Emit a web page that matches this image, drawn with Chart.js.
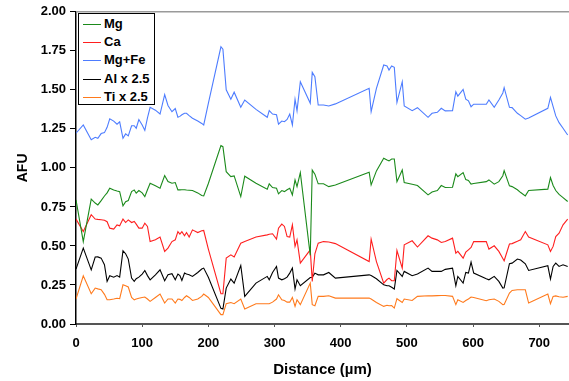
<!DOCTYPE html>
<html>
<head>
<meta charset="utf-8">
<script src="https://cdn.jsdelivr.net/npm/chart.js@4.4.0/dist/chart.umd.min.js"></script>
<style>
  body { margin: 0; background: #fff; }
  #wrap { position: relative; width: 569px; height: 381px; }
  #canvas { position: absolute; left: 0; top: 0; }
  #legend { position: absolute; left: 78px; top: 13px; width: 75px; height: 90px; border: 1px solid #000; background: #fff;
            font: bold 13px "Liberation Sans", Arial, sans-serif; color: #000; }
  .item { position: absolute; left: 0; width: 75px; height: 18px; }
  .item .sw { position: absolute; left: 4px; top: 9px; width: 18px; height: 0; border-top: 1.5px solid; }
  .item .lb { position: absolute; left: 25px; top: 1px; line-height: 16px; white-space: nowrap; }
</style>
</head>
<body>
<div id="wrap">
  <canvas id="canvas" width="569" height="381"></canvas>
  <div id="legend"></div>
</div>
<script>
// distance along the traverse (µm)
var distance = [0, 11, 23, 29, 33, 38, 43, 47, 51, 57, 62, 66, 71, 75, 79, 84, 88, 91, 95, 100,
  104, 108, 112, 120, 127, 134, 139, 145, 150, 154, 157, 160, 164, 167, 171, 176, 184, 190, 193, 200,
  219, 222, 227, 234, 239, 249, 255, 272, 289, 292, 297, 303, 306, 311, 315, 319, 323, 327, 331, 334,
  339, 354, 357, 361, 366, 374, 382, 392, 443, 446, 454, 465, 470, 473, 477, 481, 485, 493, 496, 508,
  516, 532, 538, 546, 552, 558, 569, 574, 577, 585, 589, 593, 597, 601, 620, 624, 632, 639, 645, 647,
  655, 659, 667, 672, 679, 684, 713, 717, 721, 725, 730, 736, 743];

var mg = [0.795, 0.528, 0.80, 0.775, 0.763, 0.79, 0.82, 0.84, 0.87, 0.858, 0.852, 0.848, 0.757, 0.784, 0.791, 0.848, 0.859, 0.838, 0.855, 0.84,
  0.816, 0.86, 0.902, 0.885, 0.87, 0.951, 0.912, 0.902, 0.906, 0.859, 0.859, 0.86, 0.86, 0.858, 0.857, 0.855, 0.84, 0.823, 0.821, 0.90,
  1.143, 1.136, 0.976, 0.944, 0.949, 0.816, 0.947, 0.902, 0.864, 0.898, 0.874, 0.87, 0.834, 0.855, 0.848, 0.86, 0.87, 0.827, 0.923, 0.88,
  0.97, 0.44, 0.986, 0.96, 0.898, 0.898, 0.88, 0.89, 0.972, 0.891, 0.981, 1.062, 1.05, 1.045, 1.057, 1.057, 0.912, 0.987, 0.906, 0.895,
  0.887, 0.827, 0.845, 0.855, 0.887, 0.874, 0.876, 0.962, 0.944, 0.97, 0.925, 0.92, 0.896, 0.90, 0.912, 0.923, 0.896, 0.912, 0.95, 0.983,
  0.885, 0.88, 0.86, 0.842, 0.821, 0.855, 0.864, 0.938, 0.887, 0.855, 0.83, 0.81, 0.785];

var ca = [0.672, 0.592, 0.70, 0.672, 0.67, 0.668, 0.665, 0.655, 0.614, 0.608, 0.635, 0.629, 0.672, 0.65, 0.667, 0.65, 0.657, 0.64, 0.614, 0.614,
  0.646, 0.625, 0.528, 0.54, 0.557, 0.465, 0.486, 0.528, 0.539, 0.592, 0.576, 0.592, 0.565, 0.586, 0.557, 0.603, 0.586, 0.597, 0.599, 0.48,
  0.194, 0.194, 0.422, 0.443, 0.429, 0.518, 0.528, 0.557, 0.571, 0.575, 0.578, 0.544, 0.614, 0.64, 0.625, 0.56, 0.557, 0.635, 0.497, 0.539,
  0.39, 0.475, 0.273, 0.45, 0.518, 0.528, 0.525, 0.515, 0.40, 0.544, 0.40, 0.262, 0.285, 0.294, 0.277, 0.277, 0.471, 0.358, 0.507, 0.533,
  0.493, 0.565, 0.55, 0.539, 0.522, 0.528, 0.55, 0.454, 0.465, 0.422, 0.46, 0.475, 0.49, 0.528, 0.528, 0.48, 0.501, 0.465, 0.42, 0.405,
  0.512, 0.515, 0.53, 0.54, 0.592, 0.557, 0.507, 0.465, 0.497, 0.56, 0.582, 0.635, 0.672];

var mgFe = [1.222, 1.275, 1.18, 1.196, 1.19, 1.22, 1.226, 1.26, 1.315, 1.30, 1.28, 1.295, 1.19, 1.218, 1.205, 1.27, 1.27, 1.254, 1.31, 1.275,
  1.24, 1.32, 1.388, 1.37, 1.345, 1.47, 1.40, 1.36, 1.38, 1.325, 1.33, 1.34, 1.35, 1.35, 1.335, 1.318, 1.30, 1.285, 1.275, 1.414,
  1.776, 1.76, 1.50, 1.44, 1.485, 1.388, 1.435, 1.375, 1.324, 1.367, 1.345, 1.34, 1.28, 1.30, 1.296, 1.31, 1.345, 1.275, 1.44, 1.365,
  1.552, 1.414, 1.612, 1.584, 1.403, 1.403, 1.397, 1.41, 1.51, 1.36, 1.51, 1.659, 1.653, 1.627, 1.653, 1.644, 1.42, 1.552, 1.397, 1.367,
  1.386, 1.324, 1.35, 1.356, 1.382, 1.365, 1.367, 1.488, 1.46, 1.503, 1.44, 1.43, 1.392, 1.408, 1.408, 1.435, 1.388, 1.435, 1.48, 1.514,
  1.388, 1.386, 1.35, 1.335, 1.312, 1.32, 1.382, 1.452, 1.392, 1.333, 1.29, 1.254, 1.211];

var al = [0.352, 0.486, 0.347, 0.429, 0.43, 0.422, 0.38, 0.273, 0.309, 0.30, 0.31, 0.30, 0.469, 0.45, 0.416, 0.294, 0.273, 0.29, 0.30, 0.32,
  0.343, 0.31, 0.283, 0.315, 0.347, 0.277, 0.315, 0.322, 0.283, 0.32, 0.31, 0.279, 0.326, 0.32, 0.315, 0.305, 0.33, 0.352, 0.358, 0.30,
  0.10, 0.096, 0.23, 0.288, 0.262, 0.375, 0.177, 0.262, 0.305, 0.283, 0.33, 0.368, 0.294, 0.283, 0.29, 0.30, 0.326, 0.358, 0.224, 0.283,
  0.245, 0.298, 0.30, 0.326, 0.315, 0.315, 0.33, 0.294, 0.315, 0.31, 0.29, 0.251, 0.245, 0.245, 0.235, 0.224, 0.343, 0.305, 0.337, 0.309,
  0.32, 0.358, 0.337, 0.337, 0.337, 0.35, 0.358, 0.245, 0.305, 0.262, 0.33, 0.326, 0.397, 0.326, 0.29, 0.283, 0.305, 0.273, 0.23, 0.232,
  0.386, 0.39, 0.416, 0.41, 0.386, 0.343, 0.373, 0.288, 0.369, 0.39, 0.369, 0.379, 0.369];

var ti = [0.16, 0.309, 0.194, 0.23, 0.225, 0.22, 0.19, 0.155, 0.155, 0.16, 0.165, 0.162, 0.251, 0.245, 0.237, 0.17, 0.155, 0.16, 0.165, 0.17,
  0.173, 0.16, 0.145, 0.17, 0.192, 0.134, 0.16, 0.16, 0.134, 0.16, 0.158, 0.15, 0.17, 0.181, 0.17, 0.151, 0.16, 0.177, 0.192, 0.17,
  0.06, 0.06, 0.13, 0.138, 0.13, 0.16, 0.096, 0.13, 0.13, 0.13, 0.14, 0.16, 0.187, 0.155, 0.15, 0.14, 0.14, 0.17, 0.113, 0.155,
  0.124, 0.262, 0.124, 0.117, 0.177, 0.177, 0.181, 0.166, 0.166, 0.16, 0.138, 0.113, 0.12, 0.117, 0.118, 0.102, 0.162, 0.138, 0.16, 0.151,
  0.177, 0.181, 0.18, 0.182, 0.183, 0.183, 0.177, 0.124, 0.155, 0.138, 0.15, 0.16, 0.173, 0.17, 0.149, 0.155, 0.16, 0.145, 0.124, 0.125,
  0.198, 0.215, 0.219, 0.219, 0.219, 0.134, 0.192, 0.13, 0.177, 0.18, 0.175, 0.171, 0.177];

var seriesNames = ['Mg', 'Ca', 'Mg+Fe', 'Al x 2.5', 'Ti x 2.5'];
var seriesValues = [mg, ca, mgFe, al, ti];
var seriesColors = ['#1b8a1b', '#ff1f1f', '#4d7cff', '#000000', '#ff7a1c'];
var yTicks = [0, 0.25, 0.5, 0.75, 1, 1.25, 1.5, 1.75, 2];
var xTicks = [0, 100, 200, 300, 400, 500, 600, 700];

var font = '"Liberation Sans", Arial, sans-serif';

function toPoints(vals) {
  return distance.map(function (d, i) { return { x: d, y: vals[i] }; });
}

var datasets = seriesNames.map(function (name, i) {
  return {
    label: name,
    data: toPoints(seriesValues[i]),
    borderColor: seriesColors[i],
    backgroundColor: seriesColors[i],
    borderWidth: 1.1,
    pointRadius: 0,
    tension: 0,
    fill: false
  };
});

// grey frame line along the top of the plot area
var topLine = {
  id: 'topLine',
  afterDraw: function (chart) {
    var a = chart.chartArea, c = chart.ctx;
    c.save();
    c.strokeStyle = '#9a9a9a';
    c.lineWidth = 1.5;
    c.beginPath();
    c.moveTo(a.left, a.top);
    c.lineTo(chart.width, a.top);
    c.stroke();
    c.restore();
  }
};

var ctx = document.getElementById('canvas');
window.myLine = new Chart(ctx, {
  type: 'line',
  data: { datasets: datasets },
  plugins: [topLine],
  options: {
    responsive: false,
    animation: false,
    layout: { padding: { top: 11, right: 0, bottom: 0, left: 0 } },
    plugins: { legend: { display: false }, tooltip: { enabled: false } },
    scales: {
      x: {
        type: 'linear',
        min: 0,
        max: 745,
        afterFit: function (s) { s.height = 57; },
        afterBuildTicks: function (s) { s.ticks = xTicks.map(function (v) { return { value: v }; }); },
        ticks: { font: { family: font, size: 13, weight: 'bold' }, color: '#000', padding: 9, includeBounds: false },
        grid: { drawOnChartArea: false, drawTicks: true, tickLength: 3, color: '#555' },
        border: { color: '#555', width: 2 },
        title: { display: true, text: 'Distance (µm)', font: { family: font, size: 15, weight: 'bold' }, color: '#000', padding: { top: 0, bottom: 2 } }
      },
      y: {
        min: 0,
        max: 2,
        afterFit: function (s) { s.width = 76; },
        afterBuildTicks: function (s) { s.ticks = yTicks.map(function (v) { return { value: v }; }); },
        ticks: {
          font: { family: font, size: 13, weight: 'bold' }, color: '#000', padding: 4,
          callback: function (v) { return v.toFixed(2); }
        },
        grid: { drawOnChartArea: false, drawTicks: true, tickLength: 6, color: '#000' },
        border: { color: '#000', width: 1.5 },
        title: { display: true, text: 'AFU', font: { family: font, size: 14, weight: 'bold' }, color: '#000', padding: { top: 15, bottom: 0 } }
      }
    }
  }
});

// legend box drawn over the top-left corner of the plot
var legend = document.getElementById('legend');
seriesNames.forEach(function (name, i) {
  var row = document.createElement('div');
  row.className = 'item';
  row.style.top = (1 + i * 18.2) + 'px';
  var sw = document.createElement('span');
  sw.className = 'sw';
  sw.style.borderTopColor = seriesColors[i];
  var lb = document.createElement('span');
  lb.className = 'lb';
  lb.textContent = name;
  row.appendChild(sw);
  row.appendChild(lb);
  legend.appendChild(row);
});
</script>
</body>
</html>
